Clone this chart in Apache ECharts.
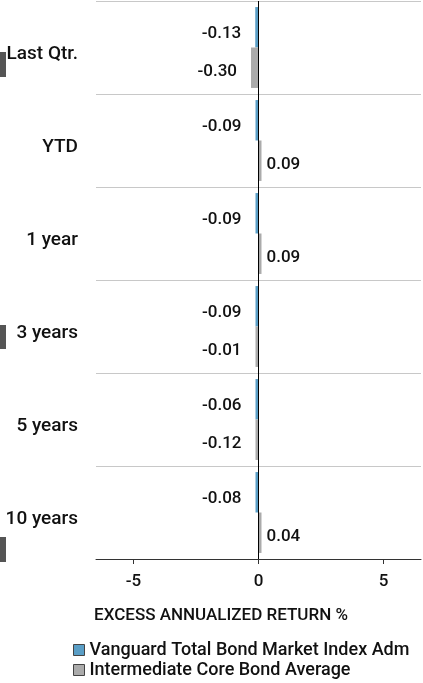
<!DOCTYPE html>
<html>
<head>
<meta charset="utf-8">
<script src="https://cdn.jsdelivr.net/npm/echarts@6/dist/echarts.min.js"></script>
<style>
  html, body { margin: 0; padding: 0; background: #fff; }
  #chart { width: 423px; height: 683px; }
</style>
</head>
<body>
<div id="chart"></div>
<script>
// periods, top to bottom
var categories = ["Last Qtr.", "YTD", "1 year", "3 years", "5 years", "10 years"];
var fundName = "Vanguard Total Bond Market Index Adm";
var avgName = "Intermediate Core Bond Average";
var fundValues = [-0.13, -0.09, -0.09, -0.09, -0.06, -0.08];
var avgValues = [-0.30, 0.09, 0.09, -0.01, -0.12, 0.04];
var xTicks = [-5, 0, 5];

var FONT = "Roboto";
var TXT = "#111";
var WEIGHT = 500;

// negative labels sit left of the bar, positive ones right
function withLabels(vals) {
  return vals.map(function(v) {
    return {
      value: v,
      label: v < 0 ? { position: "left", distance: 14 } : { position: "right", distance: 5 }
    };
  });
}

function legendAt(top, name) {
  return {
    orient: "vertical",
    left: 73,
    top: top,
    padding: 0,
    itemWidth: 11,
    itemHeight: 11,
    icon: "rect",
    itemStyle: { borderColor: "#444", borderWidth: 1 },
    textStyle: { fontFamily: FONT, fontSize: 18, fontWeight: WEIGHT, color: TXT, lineHeight: 18 },
    data: [name]
  };
}

function valueLabel(dy) {
  return {
    show: true,
    fontFamily: FONT,
    fontSize: 17,
    fontWeight: WEIGHT,
    color: TXT,
    offset: [0, dy],
    formatter: function(p) { return p.value.toFixed(2); }
  };
}

var chart = echarts.init(document.getElementById("chart"));
var option = {
  backgroundColor: "#fff",
  animation: false,
  color: ["#5a9ec6", "#ababab"],
  grid: { left: 96, right: 2, top: 1, bottom: 124 },
  legend: [legendAt(641, fundName), legendAt(661, avgName)],
  xAxis: {
    type: "value",
    min: -6.5,
    max: 6.5,
    axisLine: { show: true, lineStyle: { color: "#333", width: 1 } },
    axisTick: { show: true, customValues: xTicks, length: 5, lineStyle: { color: "#333" } },
    axisLabel: { customValues: xTicks, fontFamily: FONT, fontSize: 17, fontWeight: WEIGHT, color: TXT, margin: 14 },
    splitLine: { show: false }
  },
  yAxis: {
    type: "category",
    inverse: true,
    data: categories,
    axisLine: { show: false },
    axisTick: { show: false },
    axisLabel: {
      fontFamily: FONT,
      fontSize: 19,
      fontWeight: WEIGHT,
      color: TXT,
      margin: 18,
      verticalAlign: "top",
      lineHeight: 14
    },
    splitLine: { show: true, lineStyle: { color: "#c8c8c8", width: 1 } }
  },
  graphic: [
    {
      type: "text",
      x: 221,
      y: 616,
      style: {
        text: "EXCESS ANNUALIZED RETURN %",
        font: WEIGHT + " 17px " + FONT,
        fill: TXT,
        textAlign: "center",
        textVerticalAlign: "middle"
      }
    },
    // stray dark patches at the left edge of the original
    { type: "rect", shape: { x: 0, y: 52, width: 6, height: 25 }, style: { fill: "#555" } },
    { type: "rect", shape: { x: 0, y: 325, width: 6, height: 24 }, style: { fill: "#555" } },
    { type: "rect", shape: { x: 0, y: 537, width: 6, height: 25 }, style: { fill: "#555" } }
  ],
  series: [
    {
      name: fundName,
      type: "bar",
      data: withLabels(fundValues),
      barGap: "0%",
      barCategoryGap: "13%",
      barMinHeight: 3,
      label: valueLabel(6),
      markLine: {
        silent: true,
        symbol: "none",
        label: { show: false },
        lineStyle: { color: "#000", width: 1, type: "solid" },
        data: [{ xAxis: 0 }],
        z: 10
      }
    },
    {
      name: avgName,
      type: "bar",
      data: withLabels(avgValues),
      barGap: "0%",
      barCategoryGap: "13%",
      barMinHeight: 3,
      label: valueLabel(4)
    }
  ]
};
chart.setOption(option);
</script>
</body>
</html>
